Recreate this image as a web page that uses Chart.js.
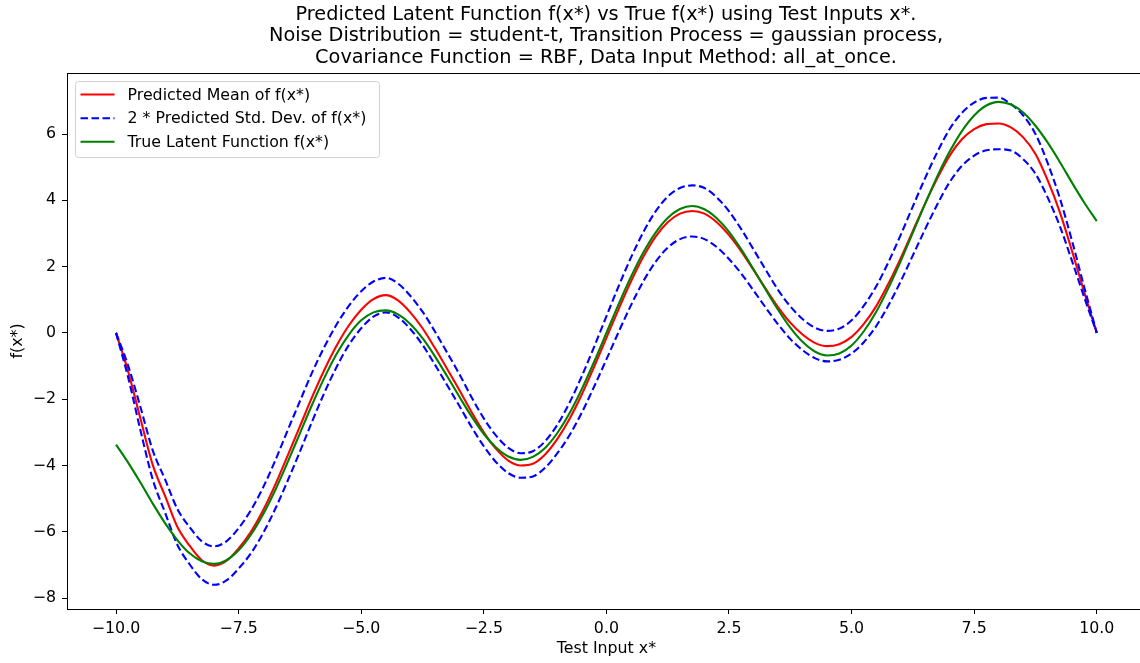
<!DOCTYPE html>
<html>
<head>
<meta charset="utf-8">
<script src="https://cdn.jsdelivr.net/npm/chart.js@4.4.1/dist/chart.umd.min.js"></script>
<style>
    html, body { margin: 0; padding: 0; background: #ffffff; overflow: hidden; }
    #wrap { position: relative; width: 1212px; height: 663px; }
</style>
</head>
<body>
<div id="wrap"><canvas id="chart"></canvas></div>
<script>
const xValues = [-10, -9.75, -9.5, -9.25, -9, -8.75, -8.5, -8.25, -8, -7.75, -7.5, -7.25, -7, -6.75, -6.5, -6.25,
    -6, -5.75, -5.5, -5.25, -5, -4.75, -4.5, -4.25, -4, -3.75, -3.5, -3.25, -3, -2.75, -2.5, -2.25,
    -2, -1.75, -1.5, -1.25, -1, -0.75, -0.5, -0.25, 0, 0.25, 0.5, 0.75, 1, 1.25, 1.5, 1.75,
    2, 2.25, 2.5, 2.75, 3, 3.25, 3.5, 3.75, 4, 4.25, 4.5, 4.75, 5, 5.25, 5.5, 5.75,
    6, 6.25, 6.5, 6.75, 7, 7.25, 7.5, 7.75, 8, 8.25, 8.5, 8.75, 9, 9.25, 9.5, 9.75, 10];

const meanValues = [0, -1.18, -2.6, -3.99, -4.92, -5.85, -6.42, -6.86, -7.02, -6.88, -6.5, -6.0, -5.35, -4.57, -3.7, -2.82,
    -1.93, -1.11, -0.38, 0.23, 0.7, 1.02, 1.14, 0.98, 0.62, 0.14, -0.45, -1.08, -1.72, -2.39, -3.0, -3.5,
    -3.85, -4.0, -3.95, -3.67, -3.2, -2.59, -1.85, -1.02, -0.15, 0.72, 1.55, 2.29, 2.9, 3.34, 3.6, 3.68,
    3.6, 3.34, 2.95, 2.46, 1.9, 1.33, 0.78, 0.31, -0.05, -0.3, -0.4, -0.34, -0.12, 0.27, 0.8, 1.48,
    2.25, 3.08, 3.9, 4.67, 5.35, 5.84, 6.15, 6.3, 6.32, 6.2, 5.9, 5.4, 4.6, 3.63, 2.45, 1.2, 0];

const upperValues = [0, -1.0, -2.25, -3.55, -4.42, -5.31, -5.86, -6.29, -6.44, -6.29, -5.89, -5.35, -4.66, -3.84, -2.94, -2.06,
    -1.19, -0.42, 0.26, 0.82, 1.26, 1.55, 1.66, 1.49, 1.12, 0.64, 0.05, -0.59, -1.24, -1.94, -2.58, -3.1,
    -3.47, -3.63, -3.57, -3.27, -2.77, -2.1, -1.3, -0.42, 0.5, 1.41, 2.27, 3.03, 3.66, 4.11, 4.37, 4.45,
    4.37, 4.09, 3.67, 3.13, 2.52, 1.9, 1.3, 0.8, 0.42, 0.16, 0.06, 0.13, 0.38, 0.82, 1.4, 2.13,
    2.95, 3.82, 4.67, 5.46, 6.15, 6.64, 6.95, 7.09, 7.1, 6.9, 6.56, 6.0, 5.12, 4.05, 2.75, 1.35, 0];

const lowerValues = [0, -1.36, -2.95, -4.43, -5.42, -6.39, -6.98, -7.43, -7.6, -7.47, -7.11, -6.65, -6.04, -5.3, -4.46, -3.58,
    -2.67, -1.8, -1.02, -0.36, 0.14, 0.49, 0.62, 0.47, 0.12, -0.36, -0.95, -1.57, -2.2, -2.84, -3.42, -3.9,
    -4.23, -4.37, -4.33, -4.07, -3.63, -3.08, -2.4, -1.62, -0.8, 0.03, 0.83, 1.55, 2.14, 2.57, 2.83, 2.91,
    2.83, 2.59, 2.23, 1.79, 1.28, 0.76, 0.26, -0.18, -0.52, -0.76, -0.86, -0.81, -0.62, -0.28, 0.2, 0.83,
    1.55, 2.34, 3.13, 3.88, 4.55, 5.04, 5.35, 5.51, 5.54, 5.5, 5.24, 4.8, 4.08, 3.21, 2.15, 1.05, 0];

const trueValues = [-3.37, -3.92, -4.52, -5.15, -5.74, -6.25, -6.65, -6.89, -6.97, -6.86, -6.56, -6.09, -5.47, -4.73, -3.9, -3.03,
    -2.16, -1.35, -0.63, -0.05, 0.38, 0.62, 0.68, 0.56, 0.27, -0.16, -0.7, -1.3, -1.92, -2.52, -3.05, -3.46,
    -3.73, -3.83, -3.74, -3.47, -3.02, -2.42, -1.69, -0.87, 0, 0.87, 1.69, 2.42, 3.02, 3.47, 3.74, 3.83,
    3.73, 3.46, 3.05, 2.52, 1.92, 1.3, 0.7, 0.16, -0.27, -0.56, -0.68, -0.62, -0.38, 0.05, 0.63, 1.35,
    2.16, 3.03, 3.9, 4.73, 5.47, 6.09, 6.56, 6.86, 6.97, 6.89, 6.65, 6.25, 5.74, 5.15, 4.52, 3.92, 3.37];

const xTicks = [-10, -7.5, -5, -2.5, 0, 2.5, 5, 7.5, 10];
const xTickLabels = ['\u221210.0', '\u22127.5', '\u22125.0', '\u22122.5', '0.0', '2.5', '5.0', '7.5', '10.0'];
const yTicks = [-8, -6, -4, -2, 0, 2, 4, 6];
const yTickLabels = ['\u22128', '\u22126', '\u22124', '\u22122', '0', '2', '4', '6'];

const titleLines = [
    'Predicted Latent Function f(x*) vs True f(x*) using Test Inputs x*.',
    'Noise Distribution = student-t, Transition Process = gaussian process,',
    'Covariance Function = RBF, Data Input Method: all_at_once.'
];
const xAxisLabel = 'Test Input x*';
const legendLabels = ['Predicted Mean of f(x*)', '2 * Predicted Std. Dev. of f(x*)', 'True Latent Function f(x*)'];

const FONT = "'DejaVu Sans', 'Liberation Sans', sans-serif";
const TEXT_SIZE = 15.8;
const X_MIN = -11;
const X_MAX_VISIBLE = 11; // the axes box runs to 11, past the cropped right edge

function toPoints(values) {
    return values.map((y, i) => ({ x: xValues[i], y: y }));
}

// spines on all four sides, like the matplotlib axes box
const framePlugin = {
    id: 'frame',
    afterDraw(chart) {
        const { ctx, chartArea } = chart;
        ctx.save();
        ctx.strokeStyle = '#000000';
        ctx.lineWidth = 1;
        ctx.strokeRect(Math.round(chartArea.left) + 0.5, Math.round(chartArea.top) + 0.5,
            Math.round(chartArea.right - chartArea.left), Math.round(chartArea.bottom - chartArea.top));
        ctx.restore();
    }
};

// x-axis label, centred under the -11..11 box rather than the whole canvas
const xLabelPlugin = {
    id: 'xLabel',
    afterDraw(chart) {
        const { ctx, scales } = chart;
        const xs = scales.x;
        const center = (xs.getPixelForValue(X_MIN) + xs.getPixelForValue(X_MAX_VISIBLE)) / 2;
        ctx.save();
        ctx.font = TEXT_SIZE + 'px ' + FONT;
        ctx.fillStyle = '#000000';
        ctx.textAlign = 'center';
        ctx.textBaseline = 'middle';
        ctx.fillText(xAxisLabel, center, xs.bottom - 14);
        ctx.restore();
    }
};

// legend box drawn inside the plot, upper left
const innerLegend = {
    id: 'innerLegend',
    afterDraw(chart) {
        const { ctx, chartArea } = chart;
        const boxX = chartArea.left + 8.5;
        const boxY = chartArea.top + 8.5;
        const boxW = 304;
        const boxH = 76;
        const styles = [
            { color: '#ff0000', dash: [] },
            { color: '#0000ff', dash: [7.5, 3.5] },
            { color: '#008000', dash: [] }
        ];
        ctx.save();
        ctx.beginPath();
        if (ctx.roundRect) {
            ctx.roundRect(boxX, boxY, boxW, boxH, 3);
        } else {
            ctx.rect(boxX, boxY, boxW, boxH);
        }
        ctx.fillStyle = 'rgba(255,255,255,0.8)';
        ctx.fill();
        ctx.strokeStyle = '#d0d0d0';
        ctx.lineWidth = 1;
        ctx.stroke();

        ctx.font = TEXT_SIZE + 'px ' + FONT;
        ctx.textBaseline = 'middle';
        ctx.textAlign = 'left';
        legendLabels.forEach((label, i) => {
            const rowY = boxY + 13 + i * 23.6;
            ctx.beginPath();
            ctx.setLineDash(styles[i].dash);
            ctx.strokeStyle = styles[i].color;
            ctx.lineWidth = 2;
            ctx.moveTo(boxX + 5, rowY);
            ctx.lineTo(boxX + 39, rowY);
            ctx.stroke();
            ctx.setLineDash([]);
            ctx.fillStyle = '#000000';
            ctx.fillText(label, boxX + 52, rowY + 1);
        });
        ctx.restore();
    }
};

const lineBase = {
    pointRadius: 0,
    pointHoverRadius: 0,
    borderWidth: 2.1,
    cubicInterpolationMode: 'monotone',
    fill: false
};

const chart = new Chart(document.getElementById('chart'), {
    type: 'line',
    data: {
        datasets: [
            { ...lineBase, label: legendLabels[0], data: toPoints(meanValues), borderColor: '#ff0000', order: 4 },
            { ...lineBase, label: legendLabels[1], data: toPoints(upperValues), borderColor: '#0000ff', borderDash: [7.5, 3.5], order: 3 },
            { ...lineBase, label: legendLabels[1], data: toPoints(lowerValues), borderColor: '#0000ff', borderDash: [7.5, 3.5], order: 2 },
            { ...lineBase, label: legendLabels[2], data: toPoints(trueValues), borderColor: '#008000', order: 1 }
        ]
    },
    options: {
        responsive: true,
        maintainAspectRatio: false,
        animation: false,
        layout: { padding: 0 },
        plugins: {
            legend: { display: false },
            tooltip: { enabled: false },
            title: {
                display: true,
                text: titleLines,
                color: '#000000',
                font: { family: FONT, size: 19.3, weight: 'normal', lineHeight: 1.12 },
                padding: { top: 3.7, bottom: 4.5 }
            }
        },
        scales: {
            x: {
                type: 'linear',
                min: X_MIN,
                max: 12.35, // canvas is wider than the picture; 11 lands just past its right edge
                afterBuildTicks: (scale) => { scale.ticks = xTicks.map((v) => ({ value: v })); },
                afterFit: (scale) => { scale.height = 54; },
                grid: { drawOnChartArea: false, drawTicks: true, tickLength: 5, color: '#000000' },
                border: { display: false },
                ticks: {
                    color: '#000000',
                    font: { family: FONT, size: TEXT_SIZE },
                    padding: 5.5,
                    maxRotation: 0,
                    callback: (value) => xTickLabels[xTicks.indexOf(value)]
                },
                title: { display: false }
            },
            y: {
                type: 'linear',
                min: -8.33,
                max: 7.84,
                afterBuildTicks: (scale) => { scale.ticks = yTicks.map((v) => ({ value: v })); },
                afterFit: (scale) => { scale.width = 67; },
                grid: { drawOnChartArea: false, drawTicks: true, tickLength: 5, color: '#000000' },
                border: { display: false },
                ticks: {
                    color: '#000000',
                    font: { family: FONT, size: TEXT_SIZE },
                    padding: 6,
                    callback: (value) => yTickLabels[yTicks.indexOf(value)]
                },
                title: {
                    display: true,
                    text: 'f(x*)',
                    color: '#000000',
                    font: { family: FONT, size: TEXT_SIZE },
                    padding: { top: 8, bottom: 0 }
                }
            }
        }
    },
    plugins: [framePlugin, xLabelPlugin, innerLegend]
});
</script>
</body>
</html>
